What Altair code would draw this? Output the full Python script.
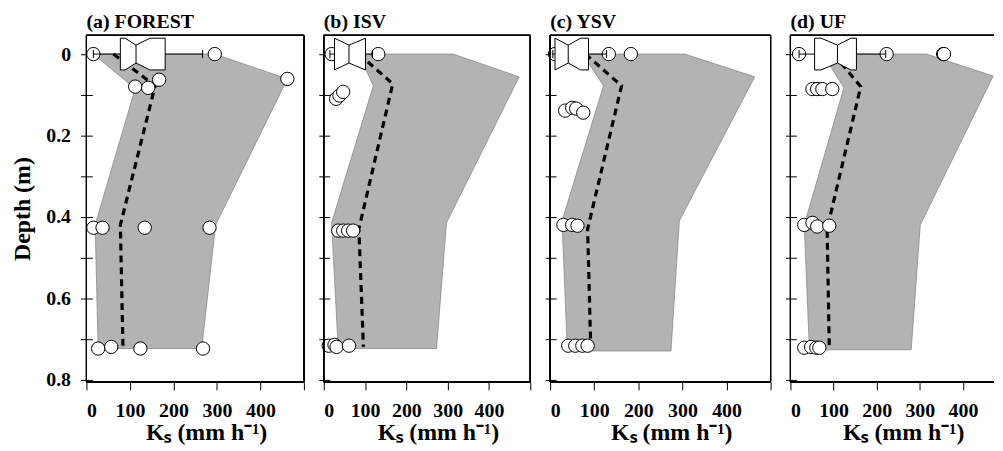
import altair as alt
import pandas as pd

# ---------------- data ----------------
PANEL_TITLES = ["(a) FOREST", "(b) ISV", "(c) YSV", "(d) UF"]

# x tick values (Ks, mm/h) and y tick values (depth, m)
X_TICKS = [0, 100, 200, 300, 400, 500]
Y_TICKS = [0, 0.1, 0.2, 0.3, 0.4, 0.5, 0.6, 0.7, 0.8]

# grey envelope polygons (closed)
A_ENV_KS = [16, 295, 462, 297, 265, 27, 20, 112, 16]
A_ENV_DEPTH = [0, 0, 0.061, 0.42, 0.724, 0.724, 0.42, 0.085, 0]
B_ENV_KS = [85, 313, 473, 297, 273, 35, 19, 120, 85]
B_ENV_DEPTH = [0, 0, 0.056, 0.415, 0.724, 0.724, 0.415, 0.078, 0]
C_ENV_KS = [73, 305, 464, 293, 274, 39, 27, 121, 73]
C_ENV_DEPTH = [0, 0, 0.056, 0.41, 0.73, 0.73, 0.41, 0.078, 0]
D_ENV_KS = [75, 315, 470, 301, 280, 44, 32, 124, 75]
D_ENV_DEPTH = [0, 0, 0.054, 0.42, 0.727, 0.727, 0.42, 0.083, 0]

# dashed profile line
A_LINE_KS = [62, 158, 78, 84]
A_LINE_DEPTH = [0, 0.078, 0.42, 0.724]
B_LINE_KS = [85, 167, 85, 96]
B_LINE_DEPTH = [0, 0.073, 0.43, 0.72]
C_LINE_KS = [80, 162, 85, 92]
C_LINE_DEPTH = [0, 0.078, 0.43, 0.72]
D_LINE_KS = [100, 163, 85, 90]
D_LINE_DEPTH = [0, 0.08, 0.43, 0.72]

# open circles (measurements)
A_PT_KS = [16, 295, 112, 142, 167, 462, 16, 37, 134, 283, 27, 57, 124, 268]
A_PT_DEPTH = [0, 0, 0.08, 0.083, 0.063, 0.061, 0.427, 0.427, 0.427, 0.427, 0.724, 0.72, 0.724, 0.724]
B_PT_KS = [19, 132, 30, 38, 47, 35, 47, 59, 71, 12, 26, 31, 61]
B_PT_DEPTH = [0, 0, 0.11, 0.102, 0.093, 0.434, 0.434, 0.434, 0.434, 0.717, 0.715, 0.72, 0.717]
C_PT_KS = [11, 133, 183, 34, 50, 59, 75, 30, 50, 62, 41, 57, 73, 85]
C_PT_DEPTH = [0, 0, 0, 0.139, 0.132, 0.134, 0.144, 0.42, 0.42, 0.422, 0.717, 0.717, 0.717, 0.717]
D_PT_KS = [20, 223, 354, 356, 51, 62, 74, 97, 32, 51, 62, 90, 32, 48, 60, 67]
D_PT_DEPTH = [0, 0, 0, 0, 0.086, 0.086, 0.086, 0.086, 0.42, 0.415, 0.424, 0.422, 0.722, 0.72, 0.722, 0.722]

# notched box at the surface: whisker low, Q1, notch low, median, notch high, Q3, whisker high
A_BOX = [16, 78, 89, 114, 146, 181, 267]
B_BOX = [15, 26, 26, 61, 101, 101, 118]
C_BOX = [6, 11, 11, 41, 69, 87, 128]
D_BOX = [20, 56, 71, 109, 140, 153, 221]

# ---------------- styling constants ----------------
Y_MIN, Y_MAX = -0.046, 0.806
BOX_HALF = 0.039
NOTCH = 0.017
CAP = 0.01
FONT = "Liberation Serif"
HEIGHT = 349


def panel(title, env_ks, env_d, line_ks, line_d, pt_ks, pt_d, box, width, xmax, first):
    xs = alt.Scale(domain=[0, xmax], nice=False, zero=False)
    ys = alt.Scale(domain=[Y_MIN, Y_MAX], nice=False, zero=False, reverse=True)
    xticks = [v for v in X_TICKS if v <= xmax]
    x_axis = alt.Axis(values=xticks, labelExpr="datum.value >= 500 ? '' : datum.label",
                      title="Kₛ (mm h⁻¹)", tickSize=8, labelPadding=11, titlePadding=0,
                      titleX=width / 2 + 11, domain=False, grid=False)
    ylab = "round(datum.value*10) % 2 == 0 ? (datum.value == 0 ? '0' : format(datum.value, '.1f')) : ''"
    if first:
        y_axis = alt.Axis(values=Y_TICKS, labelExpr=ylab, title="Depth (m)", tickSize=12,
                          offset=-6, labelPadding=10, titlePadding=11, domain=False, grid=False)
    else:
        y_axis = alt.Axis(values=Y_TICKS, labels=False, title="", tickSize=11,
                          offset=-6, domain=False, grid=False)
    X = alt.X("ks:Q", scale=xs, axis=x_axis)
    Y = alt.Y("depth:Q", scale=ys, axis=y_axis)

    env = pd.DataFrame({"ks": env_ks, "depth": env_d})
    env["i"] = range(len(env))
    prof = pd.DataFrame({"ks": line_ks, "depth": line_d})
    prof["i"] = range(len(prof))
    pts = pd.DataFrame({"ks": pt_ks, "depth": pt_d})

    wlo, q1, nlo, med, nhi, q3, whi = box
    h, n = BOX_HALF, NOTCH
    outline = pd.DataFrame({
        "ks": [q1, nlo, med, nhi, q3, q3, nhi, med, nlo, q1, q1],
        "depth": [-h, -h, -h + n, -h, -h, h, h, h - n, h, h, -h],
    })
    outline["i"] = range(len(outline))
    segs = pd.DataFrame({
        "ks": [wlo, q3, med, wlo, whi],
        "ks2": [q1, whi, med, wlo, whi],
        "depth": [0, 0, -h + n, -CAP, -CAP],
        "depth2": [0, 0, h - n, CAP, CAP],
    })

    l_env = alt.Chart(env).mark_line(fill="#b3b3b3", stroke="#8a8a8a", strokeWidth=0.8, clip=True).encode(
        x=X, y=Y, order="i:Q")
    l_prof = alt.Chart(prof).mark_line(color="black", strokeWidth=3.2, strokeDash=[7, 5]).encode(
        x=X, y=Y, order="i:Q")
    l_pts = alt.Chart(pts).mark_point(shape="circle", filled=True, fill="white", stroke="black",
                                      strokeWidth=1, size=180, opacity=1).encode(x=X, y=Y)
    l_box = alt.Chart(outline).mark_line(fill="white", stroke="black", strokeWidth=1).encode(
        x=X, y=Y, order="i:Q")
    l_segs = alt.Chart(segs).mark_rule(color="black", strokeWidth=1).encode(
        x=X, y=Y, x2="ks2:Q", y2="depth2:Q")

    frames = [
        alt.Chart(env).mark_rule(color="black", strokeWidth=1).encode(x=alt.datum(0)),
        alt.Chart(env).mark_rule(color="black", strokeWidth=1).encode(y=alt.datum(Y_MIN)),
        alt.Chart(env).mark_rule(color="black", strokeWidth=1).encode(y=alt.datum(Y_MAX)),
    ]
    if xmax >= 500:
        frames.append(alt.Chart(env).mark_rule(color="black", strokeWidth=1).encode(x=alt.datum(xmax)))

    return alt.layer(l_env, l_prof, l_pts, l_box, l_segs, *frames).properties(
        width=width, height=HEIGHT, title=title)


pa = panel(PANEL_TITLES[0], A_ENV_KS, A_ENV_DEPTH, A_LINE_KS, A_LINE_DEPTH, A_PT_KS, A_PT_DEPTH, A_BOX, 219, 500, True)
pb = panel(PANEL_TITLES[1], B_ENV_KS, B_ENV_DEPTH, B_LINE_KS, B_LINE_DEPTH, B_PT_KS, B_PT_DEPTH, B_BOX, 208, 500, False)
pc = panel(PANEL_TITLES[2], C_ENV_KS, C_ENV_DEPTH, C_LINE_KS, C_LINE_DEPTH, C_PT_KS, C_PT_DEPTH, C_BOX, 222, 500, False)
pd_ = panel(PANEL_TITLES[3], D_ENV_KS, D_ENV_DEPTH, D_LINE_KS, D_LINE_DEPTH, D_PT_KS, D_PT_DEPTH, D_BOX, 205, 472, False)

chart = alt.hconcat(pa, pb, pc, pd_, spacing=20, bounds="flush").properties(
    padding={"left": 3, "top": 2, "right": 0, "bottom": 0}
).configure_axis(
    labelFont=FONT, labelFontWeight="bold", labelFontSize=20, labelColor="black",
    titleFont=FONT, titleFontWeight="bold", titleFontSize=24, titleColor="black",
    tickColor="black", tickWidth=1,
).configure_title(
    font=FONT, fontWeight="bold", fontSize=20, anchor="start", offset=3, color="black",
    frame="group"
).configure_view(strokeWidth=0)

chart.save("out.html", embed_options={"renderer": "svg", "actions": False})
